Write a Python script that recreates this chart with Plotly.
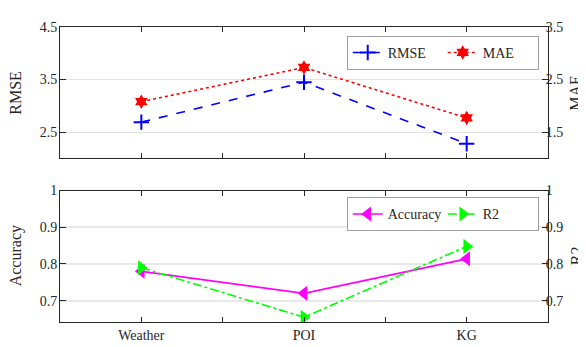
import plotly.graph_objects as go

categories = ["Weather", "POI", "KG"]
rmse = [2.69, 3.45, 2.28]
mae = [2.08, 2.73, 1.77]
accuracy = [0.780, 0.720, 0.814]
r2 = [0.790, 0.655, 0.848]

xpos = list(range(len(categories)))
tickvals = [0, 0.5, 1, 1.5, 2]
ticktext = ["Weather", "", "POI", "", "KG"]

FONT = "Liberation Serif"
AX = "#262626"
GRID = "#e3e3e3"

fig = go.Figure()
fig.add_trace(go.Scatter(x=xpos, y=rmse, name="RMSE", mode="lines+markers",
                         line=dict(color="#0000ff", width=1.6, dash="dash"),
                         marker=dict(symbol="cross-thin", size=11, line=dict(width=2, color="#0000ff")),
                         xaxis="x", yaxis="y", legend="legend"))
fig.add_trace(go.Scatter(x=xpos, y=mae, name="MAE", mode="lines+markers",
                         line=dict(color="#ff0000", width=1.6, dash="dot"),
                         marker=dict(symbol="hexagram", size=11, color="#ff0000"),
                         xaxis="x", yaxis="y2", legend="legend"))
fig.add_trace(go.Scatter(x=xpos, y=accuracy, name="Accuracy", mode="lines+markers",
                         line=dict(color="#ff00ff", width=1.6),
                         marker=dict(symbol="triangle-left", size=13, color="#ff00ff"),
                         xaxis="x2", yaxis="y3", legend="legend2"))
fig.add_trace(go.Scatter(x=xpos, y=r2, name="R2", mode="lines+markers",
                         line=dict(color="#00ff00", width=1.6, dash="dashdot"),
                         marker=dict(symbol="triangle-right", size=13, color="#00ff00"),
                         xaxis="x2", yaxis="y4", legend="legend2"))

xcommon = dict(range=[-0.5, 2.5], tickvals=tickvals, ticktext=ticktext,
               ticks="inside", ticklen=5, tickcolor=AX, showline=True, linecolor=AX,
               linewidth=1, mirror="ticks", showgrid=False, zeroline=False,
               tickfont=dict(size=14, color=AX, family=FONT))
ycommon = dict(ticks="inside", ticklen=6, tickcolor=AX, showline=True, linecolor=AX,
               linewidth=1, zeroline=False,
               tickfont=dict(size=14, color=AX, family=FONT))

W, H = 586, 347
L, R, T, B = 52, 46, 15, 29
pw = W - L - R
ph = H - T - B


def px_x(px):
    return (px - L) / pw


def px_y(py):
    return (H - B - py) / ph


titles = [("RMSE", 8, 82.5), ("MAE", 568, 82.5), ("Accuracy", 8, 250.5), ("R2", 568, 250.5)]
annotations = [dict(text=t, xref="paper", yref="paper", x=px_x(xp), y=px_y(yp),
                    xanchor="center", yanchor="middle", textangle=-90, showarrow=False,
                    font=dict(size=16, color=AX, family=FONT))
               for t, xp, yp in titles]

legend_style = dict(orientation="h", x=0.981, xanchor="right", yanchor="top",
                    bgcolor="white", bordercolor="#a0a0a0", borderwidth=1,
                    font=dict(size=14, color=AX, family=FONT),
                    entrywidth=50, entrywidthmode="pixels", tracegroupgap=0)

fig.update_layout(
    width=W, height=H,
    margin=dict(l=L, r=R, t=T, b=B),
    plot_bgcolor="white", paper_bgcolor="white",
    font=dict(family=FONT, size=14, color=AX),
    xaxis=dict(**xcommon, domain=[0, 1], anchor="y", showticklabels=False),
    yaxis=dict(**ycommon, domain=[0.5545, 1], range=[2.0, 4.5], tickvals=[2.5, 3.5, 4.5],
               ticklabelstandoff=-1,
               showgrid=True, gridcolor=GRID, gridwidth=1),
    yaxis2=dict(**ycommon, overlaying="y", side="right", anchor="x", range=[1.0, 3.5],
                tickvals=[1.5, 2.5, 3.5], ticklabelstandoff=-6, showgrid=False),
    xaxis2=dict(**xcommon, domain=[0, 1], anchor="y3"),
    yaxis3=dict(**ycommon, domain=[0, 0.4455], range=[0.642, 1.0], tickvals=[0.7, 0.8, 0.9, 1.0],
                ticktext=["0.7", "0.8", "0.9", "1"], ticklabelstandoff=-1,
                showgrid=True, gridcolor="#e8e8e8", gridwidth=1.5),
    yaxis4=dict(**ycommon, overlaying="y3", side="right", anchor="x2", range=[0.642, 1.0],
                tickvals=[0.7, 0.8, 0.9, 1.0], ticktext=["0.7", "0.8", "0.9", "1"],
                ticklabelstandoff=-6, showgrid=False),
    annotations=annotations,
    legend=dict(**legend_style, y=0.970),
    legend2=dict(**legend_style, y=0.4224),
    showlegend=True,
)

fig.write_html("out.html")
